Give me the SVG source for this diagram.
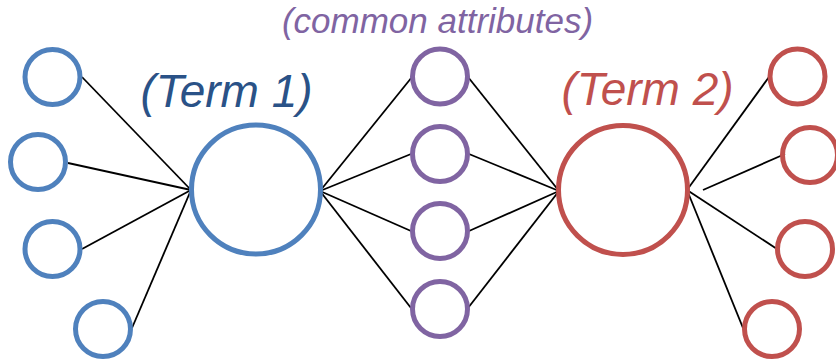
<svg xmlns="http://www.w3.org/2000/svg" width="836" height="360" viewBox="0 0 836 360">
<style>
.b{fill:none;stroke:#4F81BD;stroke-width:5}
.p{fill:none;stroke:#8064A2;stroke-width:5}
.r{fill:none;stroke:#C0504D;stroke-width:5}
.e{stroke:#000;stroke-width:1.8;fill:none}
.t{font-family:"Liberation Sans",Arial,sans-serif;font-style:italic;text-anchor:middle}
</style>
<rect width="836" height="360" fill="#fff"/>
<g id="connectors">
<line class="e" x1="82" y1="77" x2="191" y2="190"/>
<line class="e" x1="68" y1="163" x2="191" y2="190"/>
<line class="e" x1="82" y1="249" x2="191" y2="190"/>
<line class="e" x1="132" y1="328" x2="191" y2="190"/>
<line class="e" x1="320" y1="191" x2="412" y2="77"/>
<line class="e" x1="320" y1="191" x2="411" y2="154"/>
<line class="e" x1="320" y1="191" x2="411" y2="231"/>
<line class="e" x1="320" y1="191" x2="411" y2="308"/>
<line class="e" x1="468" y1="77" x2="559" y2="191"/>
<line class="e" x1="469" y1="154" x2="559" y2="191"/>
<line class="e" x1="469" y1="231" x2="559" y2="191"/>
<line class="e" x1="468" y1="308" x2="559" y2="191"/>
<line class="e" x1="687" y1="190" x2="769" y2="77"/>
<line class="e" x1="703" y1="190" x2="785" y2="154"/>
<line class="e" x1="687" y1="190" x2="777" y2="249"/>
<line class="e" x1="687" y1="190" x2="743" y2="328"/>
</g>
<g id="blue1"><circle class="b" cx="52.5" cy="77" r="27.5"/></g>
<g id="blue2"><circle class="b" cx="38" cy="162" r="27.5"/></g>
<g id="blue3"><circle class="b" cx="52.5" cy="249" r="27.5"/></g>
<g id="blue4"><circle class="b" cx="103" cy="329" r="27.5"/></g>
<g id="term1"><circle class="b" cx="256" cy="189.5" r="64.5"/>
<text class="t" x="226.5" y="107" font-size="46" fill="#2A5287">(Term 1)</text></g>
<g id="attrs"><text class="t" x="437.5" y="33" font-size="35" fill="#8064A2">(common attributes)</text></g>
<g id="purple1"><circle class="p" cx="440" cy="76.5" r="27.5"/></g>
<g id="purple2"><circle class="p" cx="440" cy="154" r="27.5"/></g>
<g id="purple3"><circle class="p" cx="440" cy="231" r="27.5"/></g>
<g id="purple4"><circle class="p" cx="440" cy="309" r="27.5"/></g>
<g id="term2"><circle class="r" cx="623" cy="190" r="64.5"/>
<text class="t" x="647.5" y="105" font-size="46" fill="#C0504D">(Term 2)</text></g>
<g id="red1"><circle class="r" cx="797.5" cy="76.5" r="27.5"/></g>
<g id="red2"><circle class="r" cx="810" cy="155" r="27.5"/></g>
<g id="red3"><circle class="r" cx="805" cy="249" r="27.5"/></g>
<g id="red4"><circle class="r" cx="772" cy="329" r="27.5"/></g>
</svg>
